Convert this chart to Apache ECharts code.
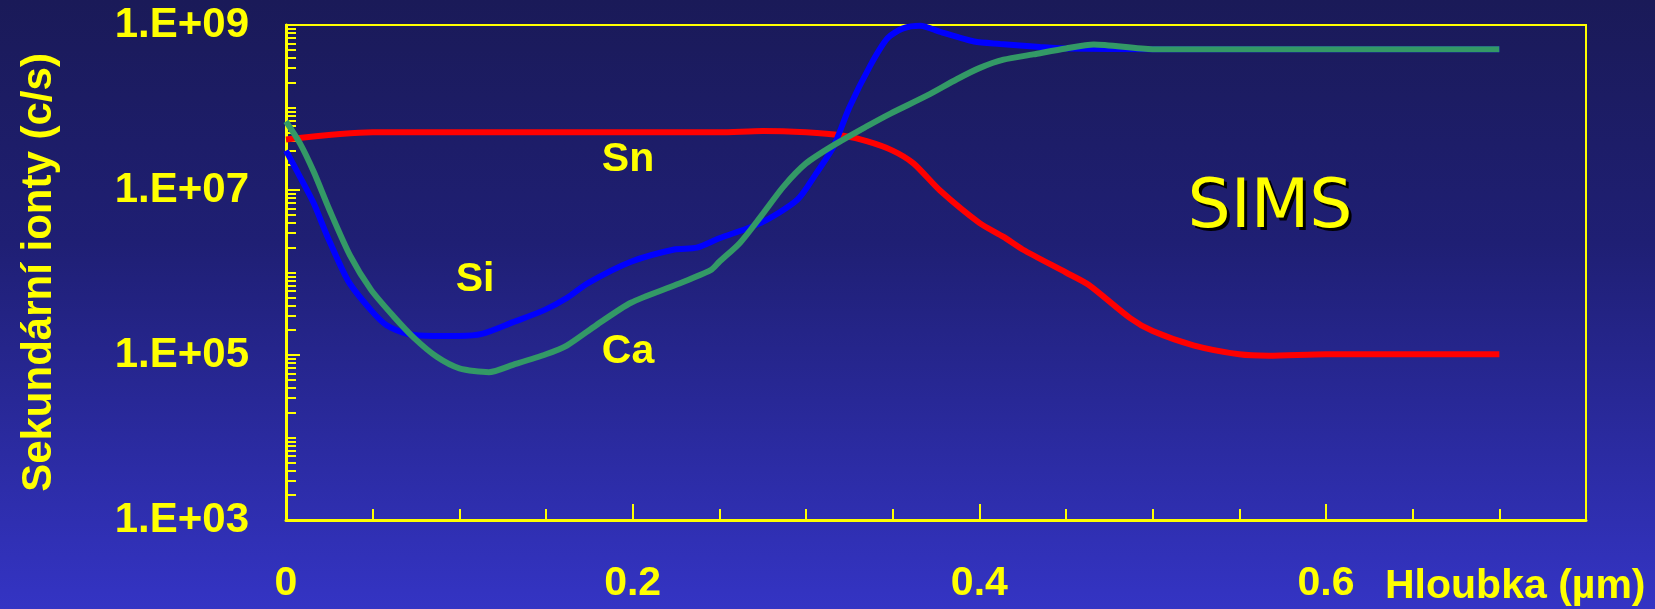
<!DOCTYPE html>
<html>
<head>
<meta charset="utf-8">
<title>SIMS</title>
<script src="https://cdn.jsdelivr.net/npm/echarts@6/dist/echarts.min.js"></script>
<style>
  html, body { margin: 0; padding: 0; }
  body { background: linear-gradient(to bottom, #1a1a58 0%, #1f1f74 40%, #3434c4 100%); }
  #chart { width: 1655px; height: 609px; }
</style>
</head>
<body>
<div id="chart"></div>
<script>
// hloubka (um) a intenzita sekundarnich iontu (c/s)
const snDepth = [0, 0.05, 0.1, 0.15, 0.2, 0.25, 0.275, 0.3, 0.32, 0.335, 0.35, 0.362, 0.377, 0.4, 0.414, 0.425, 0.45, 0.463, 0.487, 0.5, 0.524, 0.55, 0.567, 0.6, 0.65, 0.7];
const snCounts = [4.1e7, 5.0e7, 5.0e7, 5.0e7, 5.0e7, 5.0e7, 5.2e7, 5.0e7, 4.6e7, 3.9e7, 3.0e7, 2.1e7, 1.0e7, 4.0e6, 2.7e6, 1.9e6, 1.0e6, 7.1e5, 2.8e5, 1.95e5, 1.3e5, 1.02e5, 9.8e4, 1.02e5, 1.02e5, 1.02e5];

const siDepth = [0, 0.008, 0.016, 0.024, 0.036, 0.049, 0.058, 0.07, 0.085, 0.1, 0.113, 0.131, 0.149, 0.162, 0.174, 0.199, 0.224, 0.237, 0.25, 0.274, 0.295, 0.306, 0.316, 0.325, 0.337, 0.347, 0.356, 0.366, 0.377, 0.397, 0.412, 0.435, 0.45, 0.5, 0.55, 0.6, 0.65, 0.7];
const siCounts = [3.0e7, 1.45e7, 6.9e6, 2.7e6, 7.8e5, 3.5e5, 2.3e5, 1.8e5, 1.7e5, 1.7e5, 1.8e5, 2.5e5, 3.5e5, 4.9e5, 7.4e5, 1.35e6, 1.9e6, 2.0e6, 2.6e6, 4.0e6, 7.6e6, 1.6e7, 3.4e7, 1.0e8, 3.2e8, 6.9e8, 9.1e8, 9.8e8, 8.3e8, 6.3e8, 5.9e8, 5.4e8, 5.2e8, 5.1e8, 5.1e8, 5.1e8, 5.1e8, 5.1e8];

const caDepth = [0, 0.008, 0.016, 0.025, 0.037, 0.049, 0.062, 0.074, 0.087, 0.1, 0.117, 0.131, 0.15, 0.162, 0.179, 0.199, 0.225, 0.245, 0.25, 0.262, 0.274, 0.287, 0.3, 0.316, 0.335, 0.349, 0.37, 0.387, 0.4, 0.414, 0.431, 0.45, 0.466, 0.5, 0.55, 0.6, 0.65, 0.7];
const caCounts = [6.8e7, 3.7e7, 1.66e7, 5.8e6, 1.6e6, 6.2e5, 2.95e5, 1.6e5, 9.5e4, 6.9e4, 6.2e4, 7.6e4, 1.02e5, 1.3e5, 2.3e5, 4.3e5, 7.1e5, 1.07e6, 1.35e6, 2.3e6, 4.8e6, 1.1e7, 2.1e7, 3.5e7, 5.9e7, 8.5e7, 1.4e8, 2.2e8, 3.0e8, 3.8e8, 4.4e8, 5.2e8, 5.8e8, 5.1e8, 5.1e8, 5.1e8, 5.1e8, 5.1e8];

const yLabelValues = [1e3, 1e5, 1e7, 1e9];
const xLabelValues = [0, 0.2, 0.4, 0.6];

const YELLOW = '#ffff00';
const FONT = '"Liberation Sans", Arial, sans-serif';

// vedlejsi znacky logaritmicke osy (2..9 v kazde dekade a sude dekady)
const yMinorTicks = [];
for (let d = 3; d < 9; d++) {
  for (let k = 1; k <= 9; k++) {
    if (k === 1 && d % 2 === 1) continue;
    yMinorTicks.push(k * Math.pow(10, d));
  }
}

const pairs = (xs, ys) => xs.map((x, i) => [x, ys[i]]);

const fmtExp = (v) => {
  const e = Math.round(Math.log10(v));
  return '1.E+' + (e < 10 ? '0' + e : e);
};

const chart = echarts.init(document.getElementById('chart'));

const simsText = (x, y, fill) => ({
  type: 'text', x: x, y: y,
  style: {
    text: 'SIMS', fill: fill, font: '68px "DejaVu Sans", sans-serif',
    align: 'center', verticalAlign: 'middle'
  }
});

const option = {
  backgroundColor: 'transparent',
  animation: false,
  grid: {
    left: 286, top: 25, right: 69, bottom: 89,
    show: true, borderColor: YELLOW, borderWidth: 2, backgroundColor: 'transparent'
  },
  xAxis: [
    {
      type: 'value', min: 0, max: 0.75, interval: 0.2,
      axisLine: { show: true, lineStyle: { color: YELLOW, width: 3 } },
      axisTick: { show: true, inside: true, length: 16, lineStyle: { color: YELLOW, width: 2 } },
      axisLabel: {
        show: true, margin: 43, color: YELLOW, fontSize: 41, fontWeight: 'bold', fontFamily: FONT,
        showMaxLabel: false,
        formatter: (v) => xLabelValues.some(t => Math.abs(t - v) < 1e-9) ? String(v) : ''
      },
      splitLine: { show: false }
    },
    {
      type: 'value', min: 0, max: 0.75, interval: 0.05, position: 'bottom',
      axisLine: { show: false },
      axisTick: { show: true, inside: true, length: 11, lineStyle: { color: YELLOW, width: 2 } },
      axisLabel: { show: false },
      splitLine: { show: false }
    }
  ],
  yAxis: [
    {
      type: 'log', logBase: 10, min: 1e3, max: 1e9,
      name: 'Sekundární ionty (c/s)', nameLocation: 'middle', nameGap: 226, nameRotate: 90,
      nameTextStyle: { color: YELLOW, fontSize: 42, fontWeight: 'bold', fontFamily: FONT },
      axisLine: { show: true, lineStyle: { color: YELLOW, width: 3 } },
      axisTick: { show: true, inside: true, length: 14, customValues: yLabelValues, lineStyle: { color: YELLOW, width: 2 } },
      axisLabel: {
        show: true, margin: 37, color: YELLOW, fontSize: 42, fontWeight: 'bold', fontFamily: FONT,
        customValues: yLabelValues,
        formatter: (v) => fmtExp(v)
      },
      splitLine: { show: false }
    },
    {
      type: 'log', logBase: 10, min: 1e3, max: 1e9, position: 'left',
      axisLine: { show: false },
      axisTick: { show: true, inside: true, length: 10, customValues: yMinorTicks, lineStyle: { color: YELLOW, width: 2 } },
      axisLabel: { show: false },
      splitLine: { show: false }
    }
  ],
  series: [
    {
      name: 'Sn', type: 'line', data: pairs(snDepth, snCounts),
      symbol: 'none', smooth: 0.25,
      lineStyle: { color: '#ff0000', width: 6 }, z: 3
    },
    {
      name: 'Si', type: 'line', data: pairs(siDepth, siCounts),
      symbol: 'none', smooth: 0.25,
      lineStyle: { color: '#0000ff', width: 6 }, z: 4
    },
    {
      name: 'Ca', type: 'line', data: pairs(caDepth, caCounts),
      symbol: 'none', smooth: 0.25,
      lineStyle: { color: '#339966', width: 6 }, z: 5
    }
  ],
  graphic: [
    { type: 'text', left: 1385, top: 566, style: { text: 'Hloubka (µm)', fill: YELLOW, font: 'bold 41px ' + FONT } },
    { type: 'text', x: 628, y: 160, style: { text: 'Sn', fill: YELLOW, font: 'bold 41px ' + FONT, align: 'center', verticalAlign: 'middle' } },
    { type: 'text', x: 475, y: 280, style: { text: 'Si', fill: YELLOW, font: 'bold 41px ' + FONT, align: 'center', verticalAlign: 'middle' } },
    { type: 'text', x: 628, y: 352, style: { text: 'Ca', fill: YELLOW, font: 'bold 41px ' + FONT, align: 'center', verticalAlign: 'middle' } },
    simsText(1273, 212, '#000000'),
    simsText(1270, 209, YELLOW)
  ]
};

chart.setOption(option);
</script>
</body>
</html>
